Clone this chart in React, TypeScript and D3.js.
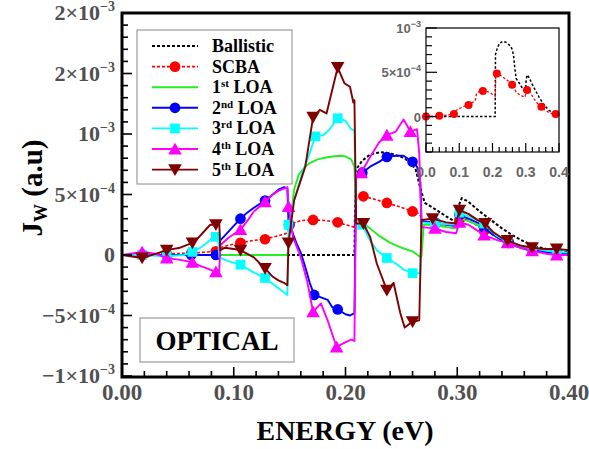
import React from 'react';
import * as d3 from 'd3';

type P = [number, number];

// Energy (eV) vs J_W, J_W given in units of 1e-4
const ballistic: P[] = [[0,0],[0.208,0],[0.209,7.0],[0.215,7.8],[0.222,8.3],[0.231,8.5],[0.24,8.4],[0.25,8.1],[0.258,7.7],[0.263,7.0],[0.267,5.5],[0.271,4.3],[0.28,3.8],[0.29,3.2],[0.299,2.7],[0.301,4.0],[0.304,4.7],[0.31,4.4],[0.32,3.6],[0.33,2.9],[0.34,2.2],[0.35,1.6],[0.36,1.1],[0.37,0.7],[0.38,0.5],[0.39,0.35],[0.40,0.25]];

const scba: P[] = [[0,0],[0.02,0.02],[0.04,0.1],[0.062,0.15],[0.084,0.3],[0.088,0.6],[0.095,0.8],[0.106,1.0],[0.117,1.2],[0.128,1.3],[0.14,1.6],[0.148,1.8],[0.152,2.6],[0.16,2.85],[0.171,2.9],[0.182,2.85],[0.193,2.7],[0.2,2.5],[0.208,2.3],[0.21,4.8],[0.216,4.85],[0.226,4.6],[0.237,4.3],[0.248,4.0],[0.26,3.6],[0.266,3.4],[0.27,2.8],[0.28,2.5],[0.29,2.3],[0.298,2.2],[0.302,2.9],[0.306,3.0],[0.315,2.6],[0.325,2.0],[0.335,1.5],[0.346,1.1],[0.357,0.75],[0.368,0.5],[0.38,0.3],[0.39,0.2],[0.40,0.15]];
const scbaMarks: P[] = [[0.019,0.02],[0.04,0.1],[0.062,0.15],[0.084,0.3],[0.106,1.0],[0.128,1.3],[0.15,2.5],[0.171,2.9],[0.193,2.7],[0.216,4.85],[0.237,4.3],[0.26,3.6],[0.28,2.5],[0.302,2.9],[0.324,2.0],[0.346,1.1],[0.367,0.5],[0.389,0.2]];
const scbaInsetMarks: P[] = [[0,0],[0.04,0.1],[0.084,0.3],[0.128,1.3],[0.171,2.9],[0.213,4.85],[0.259,3.6],[0.304,3.0],[0.347,1.1],[0.39,0.3]];

const loa1: P[] = [[0,0],[0.148,0],[0.151,3.0],[0.154,5.4],[0.158,6.6],[0.163,7.2],[0.168,7.6],[0.175,7.9],[0.185,8.1],[0.195,8.2],[0.2,8.15],[0.205,7.9],[0.208,7.3],[0.2095,2.9],[0.215,2.7],[0.222,2.2],[0.23,1.6],[0.24,1.0],[0.25,0.6],[0.26,0.3],[0.266,-0.1],[0.268,-0.15],[0.27,2.5],[0.28,2.5],[0.29,2.3],[0.299,2.2],[0.302,3.0],[0.31,2.8],[0.32,2.4],[0.33,1.9],[0.34,1.3],[0.35,0.9],[0.36,0.55],[0.37,0.35],[0.38,0.25],[0.39,0.15],[0.40,0.1]];

const loa2: P[] = [[0,0],[0.086,0],[0.088,1.2],[0.092,1.6],[0.1,2.4],[0.106,3.0],[0.112,3.5],[0.118,3.9],[0.128,4.5],[0.135,5.0],[0.14,5.4],[0.145,5.6],[0.148,5.5],[0.149,2.6],[0.152,2.0],[0.156,1.0],[0.16,0.2],[0.164,-1.0],[0.168,-2.3],[0.172,-3.3],[0.178,-3.5],[0.184,-3.7],[0.188,-4.3],[0.193,-4.5],[0.2,-4.9],[0.204,-5.0],[0.208,-4.8],[0.2095,6.5],[0.215,6.8],[0.222,7.3],[0.23,7.7],[0.237,8.1],[0.245,8.2],[0.252,8.2],[0.26,7.7],[0.264,7.3],[0.267,6.0],[0.268,2.8],[0.28,2.7],[0.29,2.5],[0.299,2.4],[0.302,3.3],[0.31,3.0],[0.32,2.6],[0.33,1.8],[0.34,1.2],[0.35,0.8],[0.36,0.5],[0.37,0.35],[0.38,0.25],[0.39,0.2],[0.40,0.15]];
const loa2Marks: P[] = [[0.018,0],[0.04,0],[0.062,0],[0.084,0],[0.106,3.0],[0.128,4.5],[0.1495,2.5],[0.172,-3.3],[0.193,-4.5],[0.215,6.8],[0.237,8.1],[0.26,7.7],[0.28,2.7],[0.302,3.3],[0.324,2.3],[0.346,1.0],[0.367,0.4],[0.389,0.2]];

const loa3: P[] = [[0,0],[0.018,0],[0.04,-0.1],[0.055,0],[0.063,0.25],[0.07,0.6],[0.076,1.0],[0.08,1.35],[0.086,1.5],[0.087,-0.2],[0.095,-0.5],[0.106,-0.8],[0.117,-1.4],[0.128,-1.9],[0.138,-2.6],[0.145,-3.1],[0.148,-3.3],[0.149,2.5],[0.152,4.0],[0.156,5.1],[0.162,7.0],[0.166,7.9],[0.173,9.8],[0.18,9.9],[0.185,10.3],[0.193,11.3],[0.2,11.1],[0.205,10.4],[0.208,10.3],[0.2095,2.6],[0.215,2.5],[0.222,1.2],[0.228,0.4],[0.237,-0.25],[0.245,-0.7],[0.252,-1.2],[0.26,-1.5],[0.267,-1.5],[0.268,2.7],[0.28,2.6],[0.29,2.55],[0.299,2.5],[0.302,3.5],[0.31,3.2],[0.32,2.8],[0.325,2.5],[0.335,1.6],[0.345,1.1],[0.356,0.8],[0.367,0.6],[0.38,0.35],[0.39,0.25],[0.40,0.2]];
const loa3Marks: P[] = [[0.018,0],[0.04,-0.1],[0.063,0.25],[0.084,1.5],[0.106,-0.8],[0.128,-1.9],[0.149,2.5],[0.173,9.8],[0.193,11.3],[0.215,2.5],[0.237,-0.25],[0.26,-1.5],[0.28,2.6],[0.302,3.5],[0.324,2.6],[0.345,1.1],[0.367,0.6],[0.389,0.25]];

const loa4: P[] = [[0,0],[0.018,0.25],[0.03,0.1],[0.04,-0.25],[0.052,-0.4],[0.063,-0.6],[0.07,-0.9],[0.076,-1.1],[0.084,-1.4],[0.087,-1.4],[0.088,0.8],[0.095,1.4],[0.106,2.1],[0.112,2.8],[0.118,3.6],[0.128,4.4],[0.135,5.0],[0.14,5.3],[0.148,5.6],[0.149,4.0],[0.153,1.5],[0.16,-0.2],[0.166,-2.3],[0.171,-4.7],[0.178,-4.0],[0.184,-5.4],[0.192,-7.6],[0.198,-7.3],[0.205,-7.0],[0.208,-7.1],[0.2095,6.4],[0.214,6.8],[0.222,8.1],[0.23,9.3],[0.237,9.9],[0.245,10.2],[0.252,11.2],[0.258,10.2],[0.264,10.4],[0.266,8.4],[0.268,2.3],[0.28,2.2],[0.29,1.9],[0.299,1.8],[0.302,2.7],[0.31,2.5],[0.315,2.2],[0.324,1.65],[0.335,1.25],[0.345,1.0],[0.356,0.6],[0.367,0.35],[0.38,0.1],[0.389,0.0],[0.40,0.0]];
const loa4Marks: P[] = [[0.018,0.25],[0.04,-0.25],[0.063,-0.6],[0.084,-1.4],[0.106,2.1],[0.128,4.4],[0.149,4.0],[0.171,-4.7],[0.192,-7.6],[0.214,6.8],[0.237,9.9],[0.258,10.2],[0.28,2.2],[0.302,2.7],[0.324,1.65],[0.345,1.0],[0.367,0.35],[0.389,0.0]];

const loa5: P[] = [[0,0],[0.018,-0.25],[0.03,0.1],[0.04,0.4],[0.052,0.6],[0.063,1.0],[0.068,1.4],[0.073,1.9],[0.079,2.5],[0.084,2.5],[0.087,2.7],[0.088,0.4],[0.092,0.6],[0.1,0.5],[0.106,0.4],[0.118,-0.2],[0.128,-1.1],[0.135,-1.8],[0.14,-2.1],[0.145,-2.3],[0.148,-2.5],[0.149,1.0],[0.154,4.5],[0.164,7.3],[0.171,11.4],[0.177,12.0],[0.183,11.7],[0.188,13.6],[0.193,15.5],[0.199,14.2],[0.204,13.9],[0.207,12.6],[0.208,12.8],[0.2095,2.6],[0.216,2.6],[0.222,1.5],[0.228,-0.7],[0.237,-2.9],[0.243,-2.3],[0.249,-4.8],[0.253,-6.0],[0.26,-5.5],[0.266,-5.4],[0.268,2.9],[0.278,3.0],[0.29,2.7],[0.299,2.6],[0.302,3.7],[0.31,3.4],[0.318,2.9],[0.325,2.6],[0.332,1.9],[0.34,1.4],[0.345,1.2],[0.356,0.8],[0.367,0.6],[0.378,0.5],[0.389,0.5],[0.40,0.4]];
const loa5Marks: P[] = [[0.018,-0.25],[0.04,0.4],[0.063,1.0],[0.084,2.5],[0.106,0.4],[0.128,-1.1],[0.149,1.0],[0.171,11.4],[0.193,15.5],[0.216,2.6],[0.237,-2.9],[0.26,-5.5],[0.278,3.0],[0.302,3.7],[0.325,2.6],[0.345,1.2],[0.367,0.6],[0.389,0.5]];

const xTicks = [0, 0.1, 0.2, 0.3, 0.4];
const xTickLabels = ['0.00', '0.10', '0.20', '0.30', '0.40'];
const yTicks = [20, 15, 10, 5, 0, -5, -10];
const yTickLabels: [string, string][] = [['2×10', '−3'], ['2×10', '−3'], ['10', '−3'], ['5×10', '−4'], ['0', ''], ['−5×10', '−4'], ['−1×10', '−3']];
const insetXTicks = [0, 0.1, 0.2, 0.3, 0.4];
const insetXLabels = ['0.0', '0.1', '0.2', '0.3', '0.4'];
const insetYTicks = [10, 5, 0];
const insetYLabels: [string, string][] = [['10', '−3'], ['5×10', '−4'], ['0', '']];

const legendNames: [string, string, string][] = [['Ballistic', '', ''], ['SCBA', '', ''], ['1', 'st', ' LOA'], ['2', 'nd', ' LOA'], ['3', 'rd', ' LOA'], ['4', 'th', ' LOA'], ['5', 'th', ' LOA']];

const SERIF = "'Liberation Serif', 'Times New Roman', serif";
const SANS = "'Liberation Sans', Arial, sans-serif";

type Marker = 'circle' | 'square' | 'up' | 'down' | 'none';
interface Series { data: P[]; marks: P[]; color: string; dash?: string; width: number; marker: Marker; }

const series: Series[] = [
  { data: ballistic, marks: [], color: '#000000', dash: '3,2', width: 2, marker: 'none' },
  { data: scba, marks: scbaMarks, color: '#ff0000', dash: '3,2', width: 1.6, marker: 'circle' },
  { data: loa1, marks: [], color: '#22ee22', width: 1.9, marker: 'none' },
  { data: loa2, marks: loa2Marks, color: '#0000ff', width: 1.9, marker: 'circle' },
  { data: loa3, marks: loa3Marks, color: '#00ffff', width: 1.9, marker: 'square' },
  { data: loa4, marks: loa4Marks, color: '#ff00ff', width: 1.9, marker: 'up' },
  { data: loa5, marks: loa5Marks, color: '#800000', width: 1.9, marker: 'down' },
];

function markerPath(m: Marker, size: number): string {
  if (m === 'none') return '';
  const t = m === 'circle' ? d3.symbolCircle : m === 'square' ? d3.symbolSquare : d3.symbolTriangle;
  return d3.symbol().type(t).size(size)() || '';
}

function MarkerShape({ m, x, y, color, size }: { m: Marker; x: number; y: number; color: string; size: number }) {
  if (m === 'none') return null;
  const rot = m === 'down' ? ' rotate(180)' : '';
  const dy = m === 'up' ? 1.5 : m === 'down' ? -1.5 : 0;
  return <path d={markerPath(m, size)} transform={`translate(${x},${y + dy})${rot}`} fill={color} stroke="none" />;
}

export default function App() {
  const W = 589, H = 449;
  const x = d3.scaleLinear().domain([0, 0.4]).range([122, 569]);
  const y = d3.scaleLinear().domain([-10, 20]).range([376, 13]);
  const line = d3.line<P>().x(d => x(d[0])).y(d => y(d[1]));

  const ix = d3.scaleLinear().domain([0, 0.4]).range([426, 559]);
  const iy = d3.scaleLinear().domain([-4, 10]).range([152, 28]);
  const iline = d3.line<P>().x(d => ix(d[0])).y(d => iy(d[1]));

  const yMinor = d3.range(-10, 20.01, 1);
  const xMinor = d3.range(0, 0.4001, 0.02);
  const iyMinor = d3.range(-4, 10.01, 1);
  const ixMinor = d3.range(0, 0.4001, 0.02);

  const markerSize: Record<Marker, number> = { circle: 90, square: 95, up: 80, down: 80, none: 0 };

  return (
    <svg width={W} height={H} style={{ position: 'absolute', left: 0, top: 0, background: '#fff' }}>
      <rect x={0} y={0} width={W} height={H} fill="#fff" />
      {series.map((s, i) => (
        <g key={i}>
          <path d={line(s.data) || ''} fill="none" stroke={s.color} strokeWidth={s.width} strokeDasharray={s.dash} strokeLinejoin="round" />
          {s.marks.map((p, j) => (
            <MarkerShape key={j} m={s.marker} x={x(p[0])} y={y(p[1])} color={s.color} size={markerSize[s.marker]} />
          ))}
        </g>
      ))}

      {yMinor.map((v, i) => {
        const major = Math.abs(v % 5) < 1e-9;
        return <line key={'ym' + i} x1={122} x2={122 + (major ? 10 : 6)} y1={y(v)} y2={y(v)} stroke="#000" strokeWidth={1.6} />;
      })}
      {xMinor.map((v, i) => {
        const major = Math.abs(Math.round(v * 10) - v * 10) < 1e-6;
        return <line key={'xm' + i} x1={x(v)} x2={x(v)} y1={377} y2={377 - (major ? 10 : 6)} stroke="#000" strokeWidth={1.6} />;
      })}
      <rect x={122} y={13} width={447} height={364} fill="none" stroke="#000" strokeWidth={3} />

      {yTicks.map((v, i) => (
        <text key={'yl' + i} x={115} y={y(v) + 7} textAnchor="end" fontFamily={SERIF} fontWeight="bold" fontSize={22} fill="#505050">
          <tspan>{yTickLabels[i][0]}</tspan>
          {yTickLabels[i][1] && <tspan dy={-9} fontSize={14}>{yTickLabels[i][1]}</tspan>}
        </text>
      ))}
      {xTicks.map((v, i) => (
        <text key={'xl' + i} x={x(v)} y={400} textAnchor="middle" fontFamily={SERIF} fontWeight="bold" fontSize={23} fill="#505050">{xTickLabels[i]}</text>
      ))}
      <text x={345} y={440} textAnchor="middle" fontFamily={SERIF} fontWeight="bold" fontSize={28} fill="#000">ENERGY (eV)</text>
      <text transform="translate(42,188) rotate(-90)" textAnchor="middle" fontFamily={SERIF} fontWeight="bold" fontSize={29} fill="#000">
        <tspan>J</tspan><tspan fontSize={18} dy={5}>W</tspan><tspan dy={-5}> (a.u)</tspan>
      </text>

      <rect x={137} y={30} width={155} height={154} fill="#fff" stroke="#888" strokeWidth={1} />
      {series.map((s, i) => {
        const ly = 46 + i * 20.6;
        return (
          <g key={'lg' + i}>
            <line x1={152} x2={198} y1={ly} y2={ly} stroke={s.color} strokeWidth={s.width} strokeDasharray={s.dash} />
            <MarkerShape m={s.marker} x={175} y={ly} color={s.color} size={markerSize[s.marker]} />
            <text x={212} y={ly + 6} fontFamily={SERIF} fontWeight="bold" fontSize={18} fill="#000">
              <tspan>{legendNames[i][0]}</tspan>
              {legendNames[i][1] && <tspan fontSize={11} dy={-6}>{legendNames[i][1]}</tspan>}
              {legendNames[i][2] && <tspan dy={legendNames[i][1] ? 6 : 0}>{legendNames[i][2]}</tspan>}
            </text>
          </g>
        );
      })}

      <rect x={140} y={318} width={154} height={44} fill="#fff" stroke="#888" strokeWidth={1} />
      <text x={217} y={350} textAnchor="middle" fontFamily={SERIF} fontWeight="bold" fontSize={27} fill="#000">OPTICAL</text>

      <rect x={426} y={28} width={133} height={124} fill="#fff" stroke="none" />
      <path d={iline(ballistic) || ''} fill="none" stroke="#000" strokeWidth={1.5} strokeDasharray="2.5,2" />
      <path d={iline(scba) || ''} fill="none" stroke="#ff0000" strokeWidth={1.3} strokeDasharray="2.5,2" />
      {scbaInsetMarks.map((p, j) => (
        <circle key={'im' + j} cx={ix(p[0])} cy={iy(p[1])} r={4} fill="#ff0000" />
      ))}
      {iyMinor.map((v, i) => {
        const major = Math.abs(v % 5) < 1e-9;
        return <line key={'iym' + i} x1={426} x2={426 + (major ? 11 : 6)} y1={iy(v)} y2={iy(v)} stroke="#000" strokeWidth={1.2} />;
      })}
      {ixMinor.map((v, i) => {
        const major = Math.abs(Math.round(v * 10) - v * 10) < 1e-6;
        return <line key={'ixm' + i} x1={ix(v)} x2={ix(v)} y1={152} y2={152 - (major ? 9 : 5)} stroke="#000" strokeWidth={1.2} />;
      })}
      <rect x={426} y={28} width={133} height={124} fill="none" stroke="#000" strokeWidth={1.2} />
      {insetYTicks.map((v, i) => (
        <text key={'iyl' + i} x={421} y={iy(v) + 5} textAnchor="end" fontFamily={SANS} fontWeight="bold" fontSize={13} fill="#666">
          <tspan>{insetYLabels[i][0]}</tspan>
          {insetYLabels[i][1] && <tspan dy={-6} fontSize={9}>{insetYLabels[i][1]}</tspan>}
        </text>
      ))}
      {insetXTicks.map((v, i) => (
        <text key={'ixl' + i} x={ix(v)} y={177} textAnchor="middle" fontFamily={SANS} fontWeight="bold" fontSize={14} fill="#666">{insetXLabels[i]}</text>
      ))}
    </svg>
  );
}
